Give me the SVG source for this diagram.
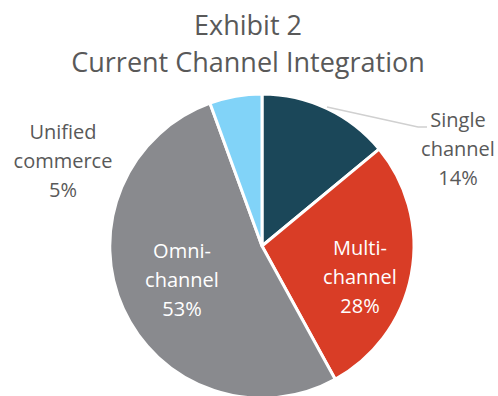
<svg xmlns="http://www.w3.org/2000/svg" width="498" height="396" viewBox="0 0 498 396">
<style>
.t{font-family:"Open Sans","Liberation Sans",sans-serif;fill:#595959;text-anchor:middle}
.title{font-size:27px}
.lbl{font-size:20px}
.w{fill:#ffffff}
.sl{stroke:#ffffff;stroke-width:3;stroke-linejoin:round}
</style>
<rect width="498" height="396" fill="#ffffff"/>
<g id="title">
<text class="t title" x="248" y="35">Exhibit 2</text>
<text class="t title" x="248" y="72">Current Channel Integration</text>
</g>
<g id="slice-single">
<path class="sl" fill="#1b4759" d="M262,246 L262,94 A152,152 0 0 1 379.1,149.1 Z"/>
</g>
<g id="slice-multi">
<path class="sl" fill="#d93d26" d="M262,246 L379.1,149.1 A152,152 0 0 1 335.2,379.2 Z"/>
</g>
<g id="slice-omni">
<path class="sl" fill="#898a8e" d="M262,246 L335.2,379.2 A152,152 0 1 1 210,103.2 Z"/>
</g>
<g id="slice-unified">
<path class="sl" fill="#81d3f8" d="M262,246 L210,103.2 A152,152 0 0 1 262,94 Z"/>
</g>
<g id="connectors">
<polyline points="327,107 418,127 427,127" fill="none" stroke="#d0d0d0" stroke-width="1.5"/>
</g>
<g id="label-single">
<text class="t lbl" x="458" y="127">Single</text>
<text class="t lbl" x="458" y="156">channel</text>
<text class="t lbl" x="458" y="185">14%</text>
</g>
<g id="label-unified">
<text class="t lbl" x="63" y="139">Unified</text>
<text class="t lbl" x="63" y="168">commerce</text>
<text class="t lbl" x="63" y="197">5%</text>
</g>
<g id="label-omni">
<text class="t lbl w" x="182" y="258">Omni-</text>
<text class="t lbl w" x="182" y="287">channel</text>
<text class="t lbl w" x="182" y="316">53%</text>
</g>
<g id="label-multi">
<text class="t lbl w" x="360" y="255">Multi-</text>
<text class="t lbl w" x="360" y="284">channel</text>
<text class="t lbl w" x="360" y="313">28%</text>
</g>
</svg>
